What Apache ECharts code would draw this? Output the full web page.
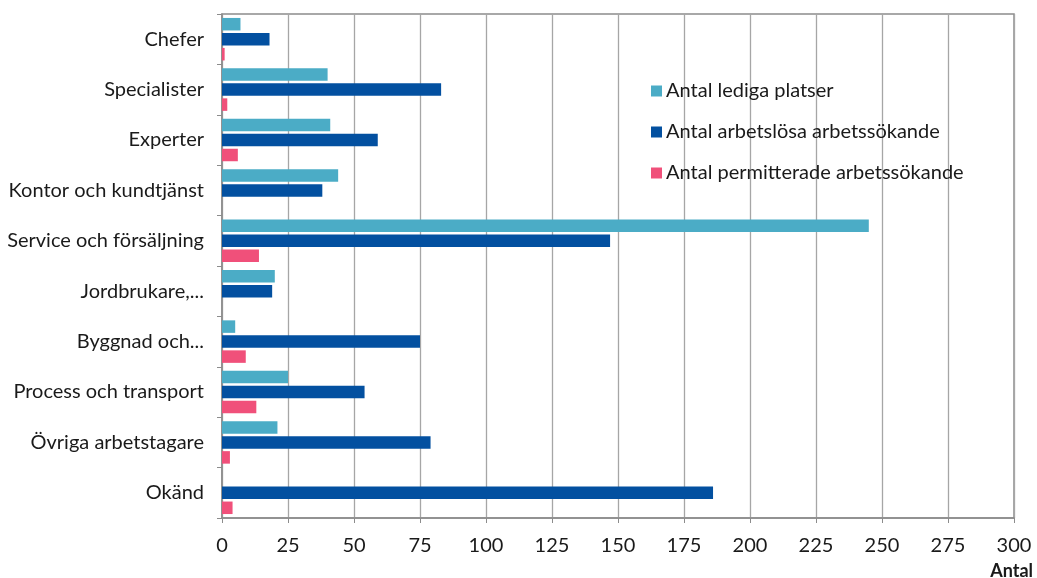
<!DOCTYPE html>
<html><head><meta charset="utf-8">
<script src="https://cdn.jsdelivr.net/npm/echarts@6/dist/echarts.min.js"></script>
<style>html,body{margin:0;padding:0;background:#fff}#c{width:1037px;height:578px}</style>
</head><body><div id="c"></div>
<script>
const categories = ['Chefer','Specialister','Experter','Kontor och kundtjänst','Service och försäljning','Jordbrukare,...','Byggnad och...','Process och transport','Övriga arbetstagare','Okänd'];
const seriesNames = ['Antal lediga platser','Antal arbetslösa arbetssökande','Antal permitterade arbetssökande'];
const lediga = [7, 40, 41, 44, 245, 20, 5, 25, 21, 0];
const arbetslosa = [18, 83, 59, 38, 147, 19, 75, 54, 79, 186];
const permitterade = [1, 2, 6, 0, 14, 0, 9, 13, 3, 4];
const xTicks = [0, 25, 50, 75, 100, 125, 150, 175, 200, 225, 250, 275, 300];
const colors = ['#4BACC6', '#0350A0', '#F0507A'];
const font = 'Lato, Open Sans, sans-serif';

const chart = echarts.init(document.getElementById('c'));
const data = [lediga, arbetslosa, permitterade];
chart.setOption({
  animation: false,
  grid: {left: 222, right: 23, top: 14, bottom: 60, show: true, borderColor: '#8C8C8C', borderWidth: 1.5},
  legend: {
    orient: 'vertical', left: 646, top: 76, itemGap: 21, itemWidth: 11, itemHeight: 11, icon: 'rect',
    textStyle: {fontSize: 20, color: '#1a1a1a', fontFamily: font, padding: [0,0,0,-1], lineHeight: 20},
    data: seriesNames
  },
  xAxis: {
    type: 'value', min: xTicks[0], max: xTicks[xTicks.length-1], interval: 25,
    axisLine: {show: true, lineStyle: {color: '#8C8C8C', width: 1.5}},
    axisTick: {show: true, length: 5, lineStyle: {color: '#8C8C8C'}},
    axisLabel: {fontSize: 20, color: '#1a1a1a', fontFamily: font, margin: 18},
    splitLine: {show: true, lineStyle: {color: '#A6A6A6', width: 1.3}}
  },
  yAxis: {
    type: 'category', data: categories, inverse: true,
    axisLine: {show: true, lineStyle: {color: '#8C8C8C', width: 1.5}},
    axisTick: {show: true, length: 5, lineStyle: {color: '#8C8C8C'}},
    axisLabel: {fontSize: 20, color: '#1a1a1a', fontFamily: font, margin: 18}
  },
  graphic: [{type: 'text', right: 4, top: 562, style: {text: 'Antal', font: 'bold 18px ' + font, fill: '#1a1a1a'}}],
  series: seriesNames.map((n, i) => ({
    name: n, type: 'bar', data: data[i], barWidth: 12.5, barGap: '20%',
    itemStyle: {color: colors[i]}
  }))
});
</script></body></html>
